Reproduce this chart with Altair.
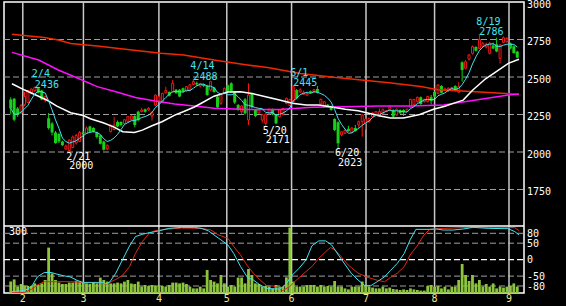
import altair as alt
import pandas as pd

# ---------------- data ----------------
opens = [2350, 2355, 2290, 2260, 2315, 2330, 2390, 2410, 2425, 2410, 2345, 2225, 2190, 2130, 2120, 2070, 2020, 2010, 2030, 2060,
         2070, 2130, 2125, 2170, 2160, 2130, 2110, 2070, 2020, 2136, 2150, 2200, 2200, 2190, 2202, 2215, 2240, 2269, 2269, 2285,
         2280, 2240, 2313, 2340, 2336, 2395, 2400, 2402, 2415, 2415, 2425, 2407, 2413, 2450, 2460, 2440, 2450, 2442, 2413, 2430,
         2369, 2324, 2390, 2445, 2458, 2400, 2313, 2269, 2351, 2213, 2387, 2280, 2260, 2213, 2191, 2255, 2284, 2247, 2236, 2250,
         2324, 2310, 2336, 2413, 2400, 2385, 2380, 2405, 2400, 2420, 2320, 2300, 2315, 2305, 2220, 2198, 2115, 2125, 2155, 2130,
         2160, 2180, 2202, 2190, 2202, 2235, 2247, 2240, 2255, 2270, 2280, 2280, 2247, 2280, 2280, 2270, 2298, 2315, 2336, 2365,
         2335, 2335, 2365, 2400, 2391, 2440, 2410, 2407, 2415, 2440, 2398, 2598, 2558, 2618, 2658, 2700, 2691, 2705, 2700, 2658,
         2710, 2718, 2624, 2731, 2735, 2724, 2705, 2669]
highs = [2365, 2360, 2300, 2320, 2400, 2415, 2425, 2436, 2430, 2415, 2375, 2260, 2200, 2140, 2130, 2075, 2050, 2085, 2110, 2120,
         2140, 2140, 2170, 2175, 2165, 2135, 2115, 2075, 2050, 2185, 2235, 2210, 2205, 2220, 2240, 2245, 2245, 2275, 2295, 2290,
         2300, 2270, 2385, 2378, 2395, 2435, 2405, 2480, 2420, 2420, 2430, 2440, 2455, 2488, 2470, 2462, 2455, 2448, 2475, 2435,
         2375, 2390, 2430, 2450, 2465, 2405, 2320, 2312, 2360, 2458, 2395, 2285, 2290, 2252, 2258, 2290, 2290, 2252, 2285, 2295,
         2362, 2355, 2445, 2420, 2425, 2410, 2395, 2410, 2420, 2440, 2356, 2340, 2320, 2310, 2225, 2205, 2140, 2150, 2175, 2165,
         2180, 2210, 2250, 2225, 2230, 2265, 2272, 2290, 2290, 2280, 2310, 2285, 2290, 2285, 2285, 2290, 2355, 2355, 2370, 2370,
         2355, 2375, 2380, 2405, 2452, 2445, 2430, 2430, 2435, 2445, 2465, 2605, 2613, 2655, 2710, 2705, 2786, 2735, 2730, 2735,
         2730, 2762, 2720, 2770, 2765, 2730, 2710, 2675]
lows = [2250, 2205, 2235, 2255, 2305, 2325, 2385, 2400, 2390, 2345, 2330, 2150, 2110, 2055, 2060, 2040, 2015, 2000, 2025, 2050,
        2065, 2110, 2120, 2130, 2130, 2090, 2050, 2010, 2012, 2130, 2145, 2165, 2170, 2185, 2198, 2210, 2165, 2205, 2265, 2262,
        2275, 2210, 2305, 2335, 2330, 2390, 2370, 2398, 2388, 2365, 2395, 2400, 2405, 2445, 2440, 2430, 2432, 2375, 2405, 2395,
        2290, 2315, 2385, 2395, 2395, 2320, 2275, 2250, 2250, 2180, 2290, 2232, 2255, 2195, 2171, 2250, 2245, 2185, 2230, 2245,
        2318, 2305, 2330, 2350, 2395, 2380, 2375, 2390, 2395, 2390, 2315, 2295, 2295, 2275, 2140, 2023, 2105, 2120, 2135, 2125,
        2135, 2160, 2102, 2150, 2195, 2230, 2240, 2235, 2250, 2265, 2275, 2230, 2240, 2255, 2240, 2265, 2290, 2310, 2330, 2315,
        2330, 2330, 2318, 2365, 2385, 2390, 2405, 2400, 2410, 2405, 2395, 2469, 2550, 2610, 2650, 2670, 2685, 2700, 2690, 2650,
        2685, 2665, 2590, 2725, 2730, 2685, 2655, 2625]
closes = [2290, 2215, 2250, 2310, 2370, 2410, 2420, 2430, 2395, 2350, 2370, 2160, 2130, 2060, 2070, 2045, 2040, 2080, 2100, 2110,
          2130, 2120, 2160, 2135, 2135, 2100, 2055, 2015, 2045, 2173, 2180, 2170, 2180, 2215, 2236, 2240, 2180, 2213, 2280, 2268,
          2291, 2265, 2380, 2370, 2391, 2410, 2375, 2458, 2392, 2370, 2402, 2436, 2447, 2470, 2450, 2455, 2440, 2380, 2469, 2400,
          2298, 2384, 2425, 2400, 2402, 2330, 2280, 2307, 2258, 2380, 2298, 2240, 2280, 2247, 2253, 2285, 2250, 2191, 2280, 2290,
          2358, 2350, 2436, 2358, 2415, 2395, 2390, 2395, 2415, 2395, 2351, 2335, 2300, 2280, 2147, 2058, 2135, 2145, 2140, 2160,
          2140, 2202, 2247, 2220, 2224, 2260, 2269, 2270, 2282, 2275, 2300, 2236, 2284, 2258, 2265, 2285, 2351, 2350, 2364, 2320,
          2350, 2370, 2340, 2370, 2447, 2395, 2420, 2425, 2430, 2410, 2435, 2547, 2602, 2647, 2702, 2675, 2751, 2725, 2718, 2725,
          2690, 2670, 2713, 2762, 2758, 2691, 2660, 2629]
volumes = [57, 68, 32, 45, 37, 35, 35, 48, 40, 48, 65, 227, 98, 65, 52, 45, 45, 52, 52, 62,
           57, 52, 48, 45, 52, 48, 77, 65, 57, 48, 48, 52, 48, 57, 65, 48, 45, 57, 32, 40,
           35, 40, 38, 35, 35, 32, 40, 52, 52, 48, 52, 45, 32, 23, 23, 32, 23, 115, 65, 57,
           48, 90, 48, 32, 40, 32, 77, 77, 48, 120, 90, 48, 45, 32, 35, 32, 23, 40, 32, 32,
           78, 327, 57, 32, 32, 32, 40, 40, 40, 32, 40, 32, 35, 32, 60, 32, 32, 23, 18, 32,
           32, 32, 57, 40, 32, 27, 23, 23, 32, 23, 27, 20, 18, 15, 18, 15, 23, 18, 15, 12,
           12, 35, 40, 32, 35, 23, 32, 18, 32, 32, 65, 145, 90, 60, 90, 48, 65, 32, 45, 32,
           48, 23, 32, 27, 32, 35, 48, 32]

white_pos = [0.35, 4.05, 7.75, 10.6, 13.4, 17.4, 21.1, 23.1, 26.8, 29.7, 32.5, 35.9, 38.2, 41.0, 43.9, 47.6, 50.4, 53.3, 55.3,
             59.0, 63.0, 66.7, 70.4, 74.3, 78.0, 81.7, 85.7, 89.4, 93.1, 97.1, 100.8, 104.5, 106.5, 110.2, 114.0, 118.7,
             122.7, 126.0, 128.4, 131.3, 134.1, 137.8, 140.7, 144.4, 147.5]
white_val = [2455, 2413, 2375, 2345, 2306, 2262, 2243, 2222, 2195, 2169, 2135, 2130, 2146, 2175, 2202, 2246, 2272, 2300, 2325,
             2372, 2400, 2402, 2388, 2367, 2346, 2325, 2313, 2313, 2300, 2285, 2275, 2255, 2243, 2226, 2226, 2250,
             2285, 2305, 2324, 2346, 2413, 2488, 2533, 2591, 2618]
magenta_pos = [0.35, 8.1, 13.8, 18.5, 25.1, 30.5, 36.2, 41.9, 47.6, 55.3, 59.0, 68.7, 78.0, 87.4, 97.1, 106.5, 115.9, 125.6,
               135.0, 144.4, 147.5]
magenta_val = [2664, 2613, 2547, 2502, 2436, 2402, 2364, 2340, 2320, 2302, 2291, 2284, 2284, 2298, 2302, 2306, 2306, 2313,
               2346, 2380, 2386]
red_pos = [0.35, 9.7, 13.8, 17.4, 25.1, 33.9, 43.6, 50.2, 59.0, 68.7, 75.0, 84.0, 93.7, 100.3, 109.8, 119.0, 124.0, 135.0, 147.5]
red_val = [2785, 2764, 2747, 2724, 2707, 2684, 2658, 2647, 2613, 2580, 2561, 2524, 2498, 2484, 2462, 2436, 2415, 2402, 2384]

osc_k_pos = [0.35, 4.05, 6.05, 7.75, 9.74, 11.74, 13.4, 15.4, 17.4, 19.1, 21.1, 24.8, 26.8, 27.7, 28.8, 30.5, 32.5, 34.5,
             36.2, 38.2, 40.2, 41.9, 45.9, 49.6, 53.3, 55.3, 57.3, 59.0, 61.0, 63.0, 64.7, 66.7, 68.7, 70.4, 72.4, 74.3,
             76.1, 78.0, 78.9, 80.0, 81.7, 83.7, 85.7, 87.4, 89.4, 91.4, 93.1, 95.1, 97.1, 98.8, 100.8, 102.8, 104.5,
             106.5, 108.5, 110.2, 112.2, 114.2, 115.9, 117.6, 121.6, 123.6, 125.5, 128.4, 131.3, 134.1, 138.7, 144.4,
             146.3, 147.5]
osc_k_val = [-97, -94, -82, -52, -39, -39, -44, -49, -53, -62, -70, -70, -70, -74, -67, -41, 1, 42,
             70, 77, 82, 85, 95, 98, 98, 95, 88, 75, 60, 45, 19, -21, -54, -62, -77, -87,
             -89, -89, -84, -72, -47, -26, -1, 42, 57, 57, 45, 14, -16, -41, -62, -79, -79,
             -66, -52, -33, -11, 19, 60, 92, 92, 93, 90, 90, 93, 98, 95, 94,
             85, 75]
osc_d_pos = [0.35, 4.05, 6.05, 7.75, 9.74, 13.4, 17.4, 21.1, 24.8, 26.8, 27.7, 30.5, 32.5, 34.5, 36.2, 38.2, 40.2, 41.9,
             45.9, 49.6, 55.3, 58.1, 60.3, 63.0, 64.7, 66.7, 68.7, 70.4, 72.4, 74.3, 76.1, 78.0, 78.9, 80.9, 82.9, 85.7,
             87.4, 89.4, 91.4, 92.8, 94.2, 95.9, 97.9, 100.8, 103.7, 106.5, 108.5, 110.2, 112.2, 114.2, 115.9, 117.9,
             119.9, 121.6, 125.5, 133.0, 144.4, 146.3, 147.5]
osc_d_val = [-99, -100, -90, -77, -67, -67, -67, -69, -69, -72, -75, -60, -47, -21, 19, 55, 80, 88,
             93, 96, 95, 90, 75, 65, 40, 14, -19, -41, -62, -79, -80, -87, -94, -82, -62, -36,
             -21, 4, 24, 37, 29, 9, -16, -41, -54, -63, -67, -54, -41, -21, 14, 41,
             75, 92, 95, 98, 98, 97, 88]

month_pos = [3.5, 21.1, 43.0, 62.7, 81.5, 103.1, 123.0, 144.6]
month_lbl = ["2", "3", "4", "5", "6", "7", "8", "9"]
price_ticks = [3000, 2750, 2500, 2250, 2000, 1750]
price_grid = [2750, 2500, 2250, 2000, 1750]
osc_ticks = [80, 50, 0, -50, -80]

hi_idx = [7, 53, 82, 136]
hi_price = [2436, 2488, 2445, 2786]
hi_date = ["2/4", "4/14", "6/1", "8/19"]
lo_idx = [17, 74, 95]
lo_price = [2000, 2171, 2023]
lo_date = ["2/21", "5/20", "6/20"]

# ---------------- styling ----------------
N = len(closes)
W, H, PH = 520, 291, 224
FONT = "DejaVu Sans Mono"
RED = "#F01818"
GREEN = "#18D018"
CYAN = "#40E4F0"
GRID = "#A0A0A0"

df = pd.DataFrame({"idx": list(range(N)), "open": opens, "high": highs, "low": lows,
                   "close": closes, "vol": volumes})

xs = alt.Scale(domain=[-0.5, N - 0.5], nice=False, zero=False)
ps = alt.Scale(domain=[1506.7, 3000], range=[PH, 0], nice=False, zero=False)
oscs = alt.Scale(domain=[-101.3, 102.2], range=[H, PH], nice=False, zero=False)
vs = alt.Scale(domain=[0, 335], range=[H, PH], nice=False)

X = alt.X("idx:Q", scale=xs, axis=None)


def py(field):
    return alt.Y(field, scale=ps, axis=None)


layers = []

# gridlines
pg = pd.DataFrame({"v": price_grid})
layers.append(alt.Chart(pg).mark_rule(color=GRID, strokeDash=[6, 3], strokeWidth=1).encode(
    y=py("v:Q"), x=alt.value(0), x2=alt.value(W)))
og = pd.DataFrame({"v": osc_ticks})
layers.append(alt.Chart(og).transform_filter("datum.v != 0").mark_rule(
    color=GRID, strokeDash=[6, 3], strokeWidth=1).encode(
    y=alt.Y("v:Q", scale=oscs, axis=None), x=alt.value(0), x2=alt.value(W)))
layers.append(alt.Chart(og).transform_filter("datum.v == 0").mark_rule(
    color="#FFFFFF", strokeDash=[6, 3], strokeWidth=1.2).encode(
    y=alt.Y("v:Q", scale=oscs, axis=None), x=alt.value(0), x2=alt.value(W)))

# month lines
md = pd.DataFrame({"pos": month_pos, "lbl": month_lbl})
layers.append(alt.Chart(md).mark_rule(color="#C8C8C8", strokeWidth=1.5).encode(
    x=alt.X("pos:Q", scale=xs, axis=None), y=alt.value(0), y2=alt.value(H)))

# volume
layers.append(alt.Chart(df).mark_bar(size=2.8, color="#8CC43C").encode(
    x=X, y=alt.Y("vol:Q", scale=vs, axis=None)))

# oscillator
layers.append(alt.Chart(pd.DataFrame({"p": osc_d_pos, "v": osc_d_val})).mark_line(
    color="#E02818", strokeWidth=1).encode(
    x=alt.X("p:Q", scale=xs, axis=None), y=alt.Y("v:Q", scale=oscs, axis=None)))
layers.append(alt.Chart(pd.DataFrame({"p": osc_k_pos, "v": osc_k_val})).mark_line(
    color=CYAN, strokeWidth=1).encode(
    x=alt.X("p:Q", scale=xs, axis=None), y=alt.Y("v:Q", scale=oscs, axis=None)))

# candles
up = alt.Chart(df).transform_filter("datum.close >= datum.open")
dn = alt.Chart(df).transform_filter("datum.close < datum.open")
layers.append(dn.mark_rule(color=GREEN, strokeWidth=1).encode(x=X, y=py("low:Q"), y2="high:Q"))
layers.append(dn.mark_bar(size=3, color=GREEN).encode(x=X, y=py("open:Q"), y2="close:Q"))
layers.append(up.mark_rule(color=RED, strokeWidth=1).encode(x=X, y=py("low:Q"), y2="high:Q"))
layers.append(up.mark_bar(size=2, fill="black", stroke=RED, strokeWidth=1).encode(
    x=X, y=py("open:Q"), y2="close:Q"))

# moving averages
layers.append(alt.Chart(pd.DataFrame({"p": red_pos, "v": red_val})).mark_line(
    color="#F02800", strokeWidth=1.5).encode(x=alt.X("p:Q", scale=xs, axis=None), y=py("v:Q")))
layers.append(alt.Chart(pd.DataFrame({"p": magenta_pos, "v": magenta_val})).mark_line(
    color="#FF10FF", strokeWidth=1.5).encode(x=alt.X("p:Q", scale=xs, axis=None), y=py("v:Q")))
layers.append(alt.Chart(pd.DataFrame({"p": white_pos, "v": white_val})).mark_line(
    color="#FFFFFF", strokeWidth=1.5).encode(x=alt.X("p:Q", scale=xs, axis=None), y=py("v:Q")))
layers.append(alt.Chart(df).transform_window(
    ma5="mean(close)", frame=[-4, 0], sort=[alt.SortField("idx")]).mark_line(
    color=CYAN, strokeWidth=1).encode(x=X, y=py("ma5:Q")))

# high / low annotations
hd = pd.DataFrame({"idx": hi_idx, "price": hi_price, "date": hi_date})
ld = pd.DataFrame({"idx": lo_idx, "price": lo_price, "date": lo_date})
txt = dict(font=FONT, fontSize=10, align="left", baseline="alphabetic")
layers.append(alt.Chart(hd).mark_text(color=CYAN, dx=-3, dy=-9.5, **txt).encode(
    x=X, y=py("price:Q"), text="date:N"))
layers.append(alt.Chart(hd).mark_text(color=CYAN, dx=0, dy=1, **txt).encode(
    x=X, y=py("price:Q"), text="price:N"))
layers.append(alt.Chart(ld).mark_text(color="#FFFFFF", dx=-3, dy=7.5, **txt).encode(
    x=X, y=py("price:Q"), text="date:N"))
layers.append(alt.Chart(ld).mark_text(color="#FFFFFF", dx=0, dy=17, **txt).encode(
    x=X, y=py("price:Q"), text="price:N"))

# axis labels
layers.append(alt.Chart(pd.DataFrame({"v": price_ticks})).mark_text(
    color="#FFFFFF", dy=5.5, **txt).encode(x=alt.value(W + 3), y=py("v:Q"), text="v:N"))
layers.append(alt.Chart(og).mark_text(color="#FFFFFF", dy=3.7, **txt).encode(
    x=alt.value(W + 3), y=alt.Y("v:Q", scale=oscs, axis=None), text="v:N"))
layers.append(alt.Chart(pd.DataFrame({"v": [300]})).mark_text(color="#FFFFFF", dy=2, **txt).encode(
    x=alt.value(5), y=alt.Y("v:Q", scale=vs, axis=None), text="v:N"))
layers.append(alt.Chart(md).mark_text(color="#F0E890", font=FONT, fontSize=10, align="center",
                                      baseline="alphabetic").encode(
    x=alt.X("pos:Q", scale=xs, axis=None), y=alt.value(H + 9), text="lbl:N"))

# panel separator
layers.append(alt.Chart(pd.DataFrame({"v": [0]})).mark_rule(color="#FFFFFF", strokeWidth=1.5).encode(
    x=alt.value(0), x2=alt.value(W), y=alt.value(PH)))

chart = alt.layer(*layers).resolve_scale(y="independent").properties(
    width=W, height=H,
    autosize=alt.AutoSizeParams(type="none"),
    padding={"left": 4, "top": 2, "right": 42, "bottom": 13},
    background="black",
).configure_view(stroke="#FFFFFF", strokeWidth=1.5)

chart.save("out.html", embed_options={"renderer": "svg", "actions": False})
